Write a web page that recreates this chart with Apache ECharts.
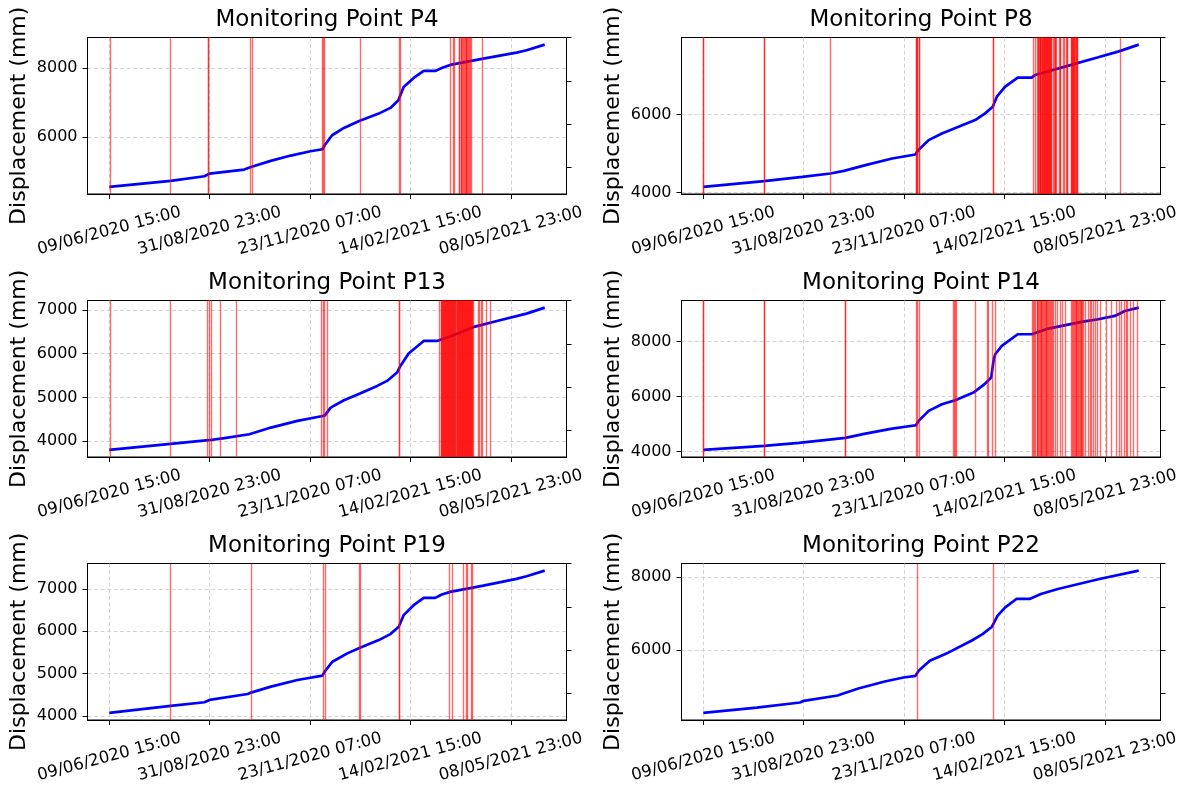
<!DOCTYPE html>
<html>
<head>
<meta charset="utf-8">
<script src="https://cdn.jsdelivr.net/npm/echarts@6/dist/echarts.min.js"></script>
<style>
  html, body { margin: 0; padding: 0; background: #fff; }
  #chart { width: 1184px; height: 785px; }
</style>
</head>
<body>
<div id="chart"></div>
<script>
// Time base: x values are days elapsed since the first reading.
const startStamp = '09/06/2020 15:00';
const tickLabels = ['09/06/2020 15:00', '31/08/2020 23:00', '23/11/2020 07:00', '14/02/2021 15:00', '08/05/2021 23:00'];

// Displacement readings (mm) per monitoring point: day offsets and values.
const p4Days   = [0, 51, 79, 83.2, 112, 117.7, 134, 150.7, 167, 177, 178.8, 185, 194.8, 207.5, 223.7, 233.4, 240, 244.4, 252.7, 261, 270.6, 276, 283, 310.5, 338, 346.4, 361.5];
const p4Values = [4551, 4725, 4860, 4937, 5053, 5130, 5304, 5459, 5585, 5642, 5758, 6048, 6261, 6464, 6676, 6841, 7063, 7449, 7710, 7913, 7913, 8000, 8087, 8271, 8444, 8512, 8676];

const p8Days   = [0, 50.5, 82.2, 105.6, 116.7, 134.6, 156.7, 176, 177.9, 187, 198, 211.8, 225.6, 233.9, 240.2, 243.6, 250.5, 260.9, 272.5, 275.3, 300.1, 327.7, 344.2, 361.3];
const p8Values = [4145, 4291, 4402, 4487, 4556, 4701, 4872, 4974, 5068, 5342, 5513, 5684, 5855, 6026, 6197, 6453, 6709, 6940, 6940, 7008, 7222, 7462, 7607, 7786];

const p13Days   = [0, 51, 82.4, 95.6, 116.3, 134.2, 156.2, 176.1, 178.8, 183.8, 194.8, 208.6, 222.4, 230.6, 238.9, 241.7, 248.5, 261, 272, 283, 303.6, 324.3, 346.4, 361.5];
const p13Values = [3802, 3939, 4023, 4069, 4160, 4312, 4465, 4571, 4586, 4769, 4937, 5096, 5264, 5378, 5569, 5721, 6003, 6292, 6292, 6391, 6619, 6764, 6916, 7053];

const p14Days   = [0, 50.5, 79.4, 118, 134.6, 156.7, 176.5, 178.7, 187, 198, 209, 224.2, 233.9, 238.9, 240.8, 242.2, 247.7, 260.9, 272.5, 286.3, 313.9, 327.7, 341.5, 349.8, 361.3];
const p14Values = [4061, 4206, 4315, 4497, 4655, 4836, 4958, 5115, 5479, 5721, 5867, 6146, 6473, 6691, 7297, 7539, 7842, 8267, 8267, 8473, 8715, 8812, 8933, 9115, 9236];

const p19Days   = [0, 51, 79, 83.2, 114.9, 117.7, 134.2, 156.2, 177, 178.8, 185.2, 197.6, 208.6, 223.7, 233.4, 240.3, 244.4, 252.7, 261, 270.6, 276.1, 283, 310.5, 338.1, 346.4, 361.5];
const p19Values = [4071, 4236, 4322, 4377, 4518, 4550, 4691, 4848, 4950, 5045, 5280, 5477, 5618, 5791, 5932, 6105, 6380, 6615, 6788, 6788, 6866, 6929, 7079, 7236, 7298, 7432];

const p22Days   = [0, 44.4, 80.3, 83.4, 111.5, 116.2, 128.7, 150.6, 166.2, 176.2, 178.7, 188, 203.7, 222.5, 231.8, 239.6, 244.3, 250.6, 259.9, 270.8, 280.2, 294.3, 328.7, 361.4];
const p22Values = [4275, 4422, 4560, 4606, 4752, 4807, 4945, 5138, 5248, 5294, 5431, 5706, 5936, 6257, 6440, 6642, 6945, 7174, 7404, 7404, 7541, 7679, 7954, 8183];

// Flagged anomaly instants (day offsets), drawn as vertical red lines.
// Repeated instants are flagged more than once and show as deeper red.
const p4Alerts = [0.5, 51, 82.4, 82.4, 117.4, 118.5, 176.4, 177.5, 178.8, 208, 240.6, 241.7,
  283, 285.7, 286.8, 290.4, 290.9, 291.8, 292.5, 293.2, 293.9, 294.6, 295.3, 296, 296.6, 297.3, 298.0,
  298.7, 299.5, 300.4, 309.4];
const p8Alerts = [0, 0, 50.5, 50.5, 105.4, 176.5, 176.5, 177.9, 177.9, 179.3, 179.3, 240.8, 240.8, 273.9, 275.3,
  277.5, 277.9, 278.3, 278.8, 279.2, 279.6, 280.0, 280.5, 280.9, 281.3, 281.7, 282.2, 282.6, 283.0,
  283.4, 283.9, 284.3, 284.7, 285.1, 285.6, 286.0, 286.4, 286.8, 287.3, 287.7, 288.1, 288.5, 289.0,
  290.4, 290.8, 292.0, 292.4, 293.1, 295.7, 296.1, 296.5, 298.7, 299.1, 301.4, 301.8, 302.3,
  305.1, 305.6, 306.0, 306.5, 306.9, 307.3, 307.8, 308.2, 308.7, 309.1, 309.5, 310.0, 310.3, 345.6];
const p13Alerts = [0.5, 51, 81.3, 83.2, 84.6, 91.8, 105.8, 176.1, 177.5, 178.8, 181.3, 240.6, 240.6, 274.2,
  275.3, 275.7, 276.1, 276.6, 277.0, 277.4, 277.8, 278.3, 278.7, 279.1, 279.5, 280.0, 280.4, 280.8,
  281.2, 281.7, 282.1, 282.5, 282.9, 283.4, 283.8, 284.2, 284.6, 285.1, 285.5, 285.9, 286.3, 286.8,
  287.2, 287.6, 288.0, 288.5, 288.9, 289.3, 289.7, 290.2, 290.6, 291.0, 291.4, 291.9, 292.3, 292.7,
  293.1, 293.6, 294.0, 294.4, 294.8, 295.3, 295.7, 296.1, 296.5, 297.0, 297.4, 297.8, 298.2, 298.7,
  299.1, 299.5, 299.9, 300.4, 300.8, 301.2, 301.6, 302.1,
  305.9, 307.2, 308.6, 309.7, 313.3, 316.6];
const p14Alerts = [0, 0, 50.5, 50.5, 117.8, 117.8, 176.5, 177.9, 179.3, 207, 208, 209.1, 210.2, 225.6, 235.3, 236.7, 239.4, 242.2,
  273.3, 273.8, 274.7, 275.5, 276.7, 277.3, 278, 278.7, 279.4, 280.1, 280.8, 281.5, 282.2, 282.9, 283.5, 284.2,
  284.9, 285.6, 286.3, 287.0, 287.7, 288.5, 289.6, 290.5, 291.8, 294, 296, 297.9, 300.1,
  305.6, 306.3, 307, 307.7, 308.4, 309.1, 309.8, 310.5, 311.1, 311.8, 312.5, 313.2, 313.9, 314.6, 315.3,
  317.2, 319.4, 320.7, 322.2, 323.5, 324.9, 327.1, 329.1,
  334.6, 338.7, 342.9, 344.8, 347, 349.2, 350.6, 352, 353.9, 356.6, 360.2];
const p19Alerts = [51, 117.7, 177.7, 179.1, 207.5, 208.6, 240.8, 240.8, 282.4, 284.9, 293.5, 296, 297.3, 300.4, 301.2];
const p22Alerts = [177.8, 240.9];

// Left-axis tick values per panel.
const p4YTicks  = [6000, 8000];
const p8YTicks  = [4000, 6000];
const p13YTicks = [4000, 5000, 6000, 7000];
const p14YTicks = [4000, 6000, 8000];
const p19YTicks = [4000, 5000, 6000, 7000];
const p22YTicks = [6000, 8000];

// Unlabelled ticks of the secondary (right) axis, as fractions of its height.
const twinTicks = [0.168, 0.445, 0.721, 1.0];

const panels = [
  { title: 'Monitoring Point P4',  days: p4Days,  values: p4Values,  alerts: p4Alerts,  yTicks: p4YTicks },
  { title: 'Monitoring Point P8',  days: p8Days,  values: p8Values,  alerts: p8Alerts,  yTicks: p8YTicks },
  { title: 'Monitoring Point P13', days: p13Days, values: p13Values, alerts: p13Alerts, yTicks: p13YTicks },
  { title: 'Monitoring Point P14', days: p14Days, values: p14Values, alerts: p14Alerts, yTicks: p14YTicks },
  { title: 'Monitoring Point P19', days: p19Days, values: p19Values, alerts: p19Alerts, yTicks: p19YTicks },
  { title: 'Monitoring Point P22', days: p22Days, values: p22Values, alerts: p22Alerts, yTicks: p22YTicks }
];

function parseStamp(s) {
  const [d, t] = s.split(' ');
  const [dd, mm, yy] = d.split('/').map(Number);
  const [hh, mi] = t.split(':').map(Number);
  return Date.UTC(yy, mm - 1, dd, hh, mi);
}
const t0 = parseStamp(startStamp);
const tickDays = tickLabels.map(s => (parseStamp(s) - t0) / 86400000);

function tickText(v) {
  for (let k = 0; k < tickDays.length; k++) {
    if (Math.abs(tickDays[k] - v) < 1e-6) return tickLabels[k];
  }
  return '';
}

// Axis extents padded by 5% of the data span on each side.
function padded(arr) {
  const lo = Math.min(...arr), hi = Math.max(...arr), m = (hi - lo) * 0.05;
  return [lo - m, hi + m];
}

const FONT = 'DejaVu Sans';
const colLeft = [87.5, 681.5];
const rowTop = [37.5, 300.5, 563.5];
const plotW = 479, plotH = 156.5;
const gridColor = '#c9c9c9';

const option = { animation: false, backgroundColor: '#fff', title: [], grid: [], xAxis: [], yAxis: [], series: [] };

panels.forEach((p, i) => {
  const left = colLeft[i % 2], top = rowTop[Math.floor(i / 2)];
  const [xMin, xMax] = padded(p.days);
  const [yMin, yMax] = padded(p.values);

  option.title.push({
    text: p.title, left: left + plotW / 2, top: top - 29, padding: 0,
    textAlign: 'center', textVerticalAlign: 'top',
    textStyle: { fontFamily: FONT, fontSize: 23, fontWeight: 'normal', color: '#000' }
  });

  option.grid.push({
    left: left, top: top, width: plotW, height: plotH,
    show: true, borderColor: '#000', borderWidth: 1, backgroundColor: 'transparent',
    containLabel: false, outerBoundsMode: 'none'
  });

  option.xAxis.push({
    type: 'value', gridIndex: i, min: xMin, max: xMax,
    axisLine: { show: true, onZero: false, lineStyle: { color: '#000', width: 1 } },
    axisTick: { show: true, customValues: tickDays, length: 5, lineStyle: { color: '#000', width: 1 } },
    axisLabel: {
      customValues: tickDays, formatter: tickText, rotate: 15,
      align: 'center', verticalAlign: 'middle', margin: 37,
      fontFamily: FONT, fontSize: 16.5, color: '#000'
    },
    splitLine: { show: true, lineStyle: { color: gridColor, type: [4, 2.5], width: 0.8 } }
  });

  option.yAxis.push({
    type: 'value', gridIndex: i, position: 'left', min: yMin, max: yMax,
    name: 'Displacement (mm)', nameLocation: 'middle', nameGap: 57,
    nameTextStyle: { fontFamily: FONT, fontSize: 22, color: '#000' },
    axisLine: { show: true, onZero: false, lineStyle: { color: '#000', width: 1 } },
    axisTick: { show: true, customValues: p.yTicks, length: 5, lineStyle: { color: '#000', width: 1 } },
    axisLabel: { customValues: p.yTicks, formatter: v => String(v), margin: 10, fontFamily: FONT, fontSize: 16, color: '#000' },
    splitLine: { show: true, lineStyle: { color: gridColor, type: [4, 2.5], width: 0.8 } }
  });

  option.yAxis.push({
    type: 'value', gridIndex: i, position: 'right', min: 0, max: 1,
    axisLine: { show: true, onZero: false, lineStyle: { color: '#000', width: 1 } },
    axisTick: { show: true, customValues: twinTicks, length: 5, lineStyle: { color: '#000', width: 1 } },
    axisLabel: { show: false },
    splitLine: { show: false }
  });

  // Displacement curve.
  option.series.push({
    type: 'line', xAxisIndex: i, yAxisIndex: 2 * i,
    data: p.days.map((d, k) => [d, p.values[k]]),
    showSymbol: false, symbol: 'none', clip: true, z: 2,
    lineStyle: { color: '#0000ff', width: 2.7 },
    emphasis: { disabled: true }
  });

  // Anomaly markers, layered above the curve.
  option.series.push({
    type: 'line', xAxisIndex: i, yAxisIndex: 2 * i, data: [], z: 6,
    markLine: {
      z: 10, silent: true, symbol: ['none', 'none'], animation: false,
      label: { show: false }, emphasis: { disabled: true },
      lineStyle: { color: 'rgba(255,0,0,0.58)', width: 1.4, type: 'solid' },
      data: p.alerts.map(d => ({ xAxis: d }))
    }
  });
});

const chart = echarts.init(document.getElementById('chart'), null, { renderer: 'canvas' });
chart.setOption(option);
</script>
</body>
</html>
